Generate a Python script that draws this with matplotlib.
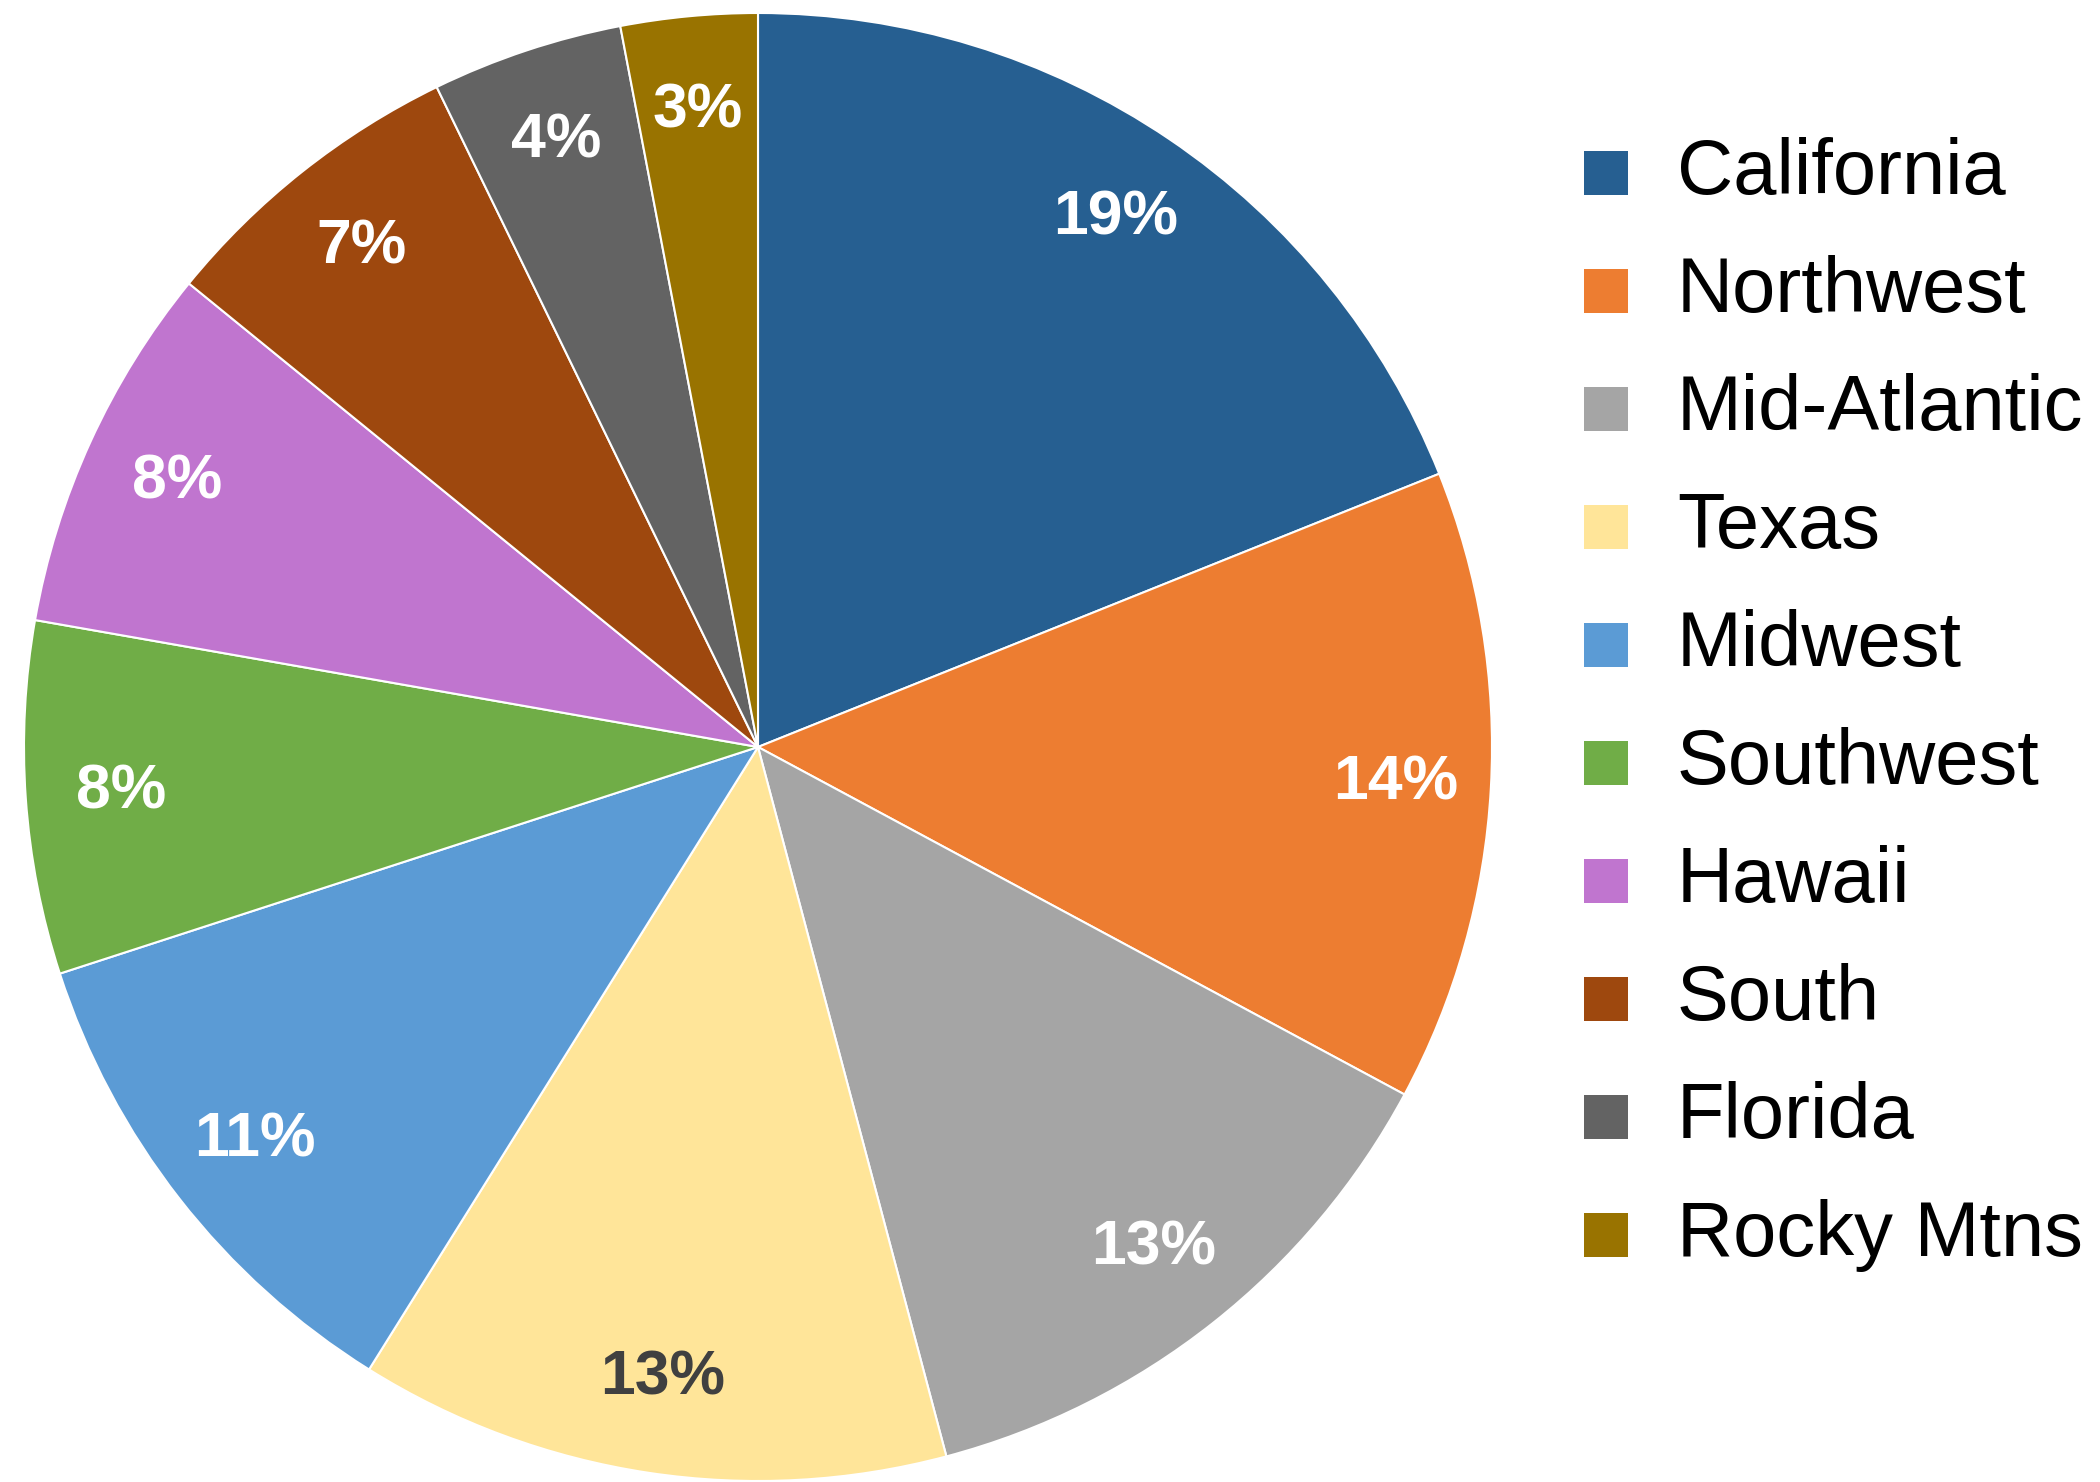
import matplotlib
matplotlib.use("Agg")
import matplotlib.pyplot as plt
from matplotlib.patches import Rectangle

plt.rcParams['font.family'] = ['Liberation Sans', 'DejaVu Sans']

regions = ["California", "Northwest", "Mid-Atlantic", "Texas", "Midwest",
           "Southwest", "Hawaii", "South", "Florida", "Rocky Mtns"]
shares = [18.9, 13.9, 13.0, 13.0, 11.1, 7.75, 8.1, 6.9, 4.2, 3.0]
colors = ["#265F91", "#ED7D31", "#A5A5A5", "#FFE599", "#5B9BD5",
          "#70AD47", "#C075CF", "#9E480E", "#636363", "#997300"]
label_colors = ["white", "white", "white", "#404040", "white",
                "white", "white", "white", "white", "white"]

W, H = 2100, 1482
fig = plt.figure(figsize=(W / 100, H / 100), dpi=100)

cx, cy, r = 758, 747, 734
ax = fig.add_axes([(cx - r) / W, (H - cy - r) / H, 2 * r / W, 2 * r / H])
wedges, texts, autotexts = ax.pie(
    shares, colors=colors, startangle=90, counterclock=False,
    autopct='%.0f%%', pctdistance=0.87, radius=1,
    wedgeprops=dict(edgecolor='white', linewidth=1.5),
    textprops=dict(fontsize=45, fontweight='bold'))
for t, c in zip(autotexts, label_colors):
    t.set_color(c)
ax.set_xlim(-1, 1)
ax.set_ylim(-1, 1)
ax.set_aspect('equal')
ax.axis('off')

# Legend drawn manually
sq = 44
x_sq = 1584
x_txt = 1677
y0 = 173
step = 118
for i, (name, col) in enumerate(zip(regions, colors)):
    yc = y0 + i * step
    fig.patches.append(Rectangle(((x_sq) / W, (H - yc - sq / 2) / H), sq / W, sq / H,
                                 transform=fig.transFigure, facecolor=col,
                                 edgecolor='none'))
    fig.text(x_txt / W, (H - yc - 21) / H, name, fontsize=56, color='black',
             va='baseline', ha='left')

fig.savefig("out.png", dpi=100, facecolor='white')
